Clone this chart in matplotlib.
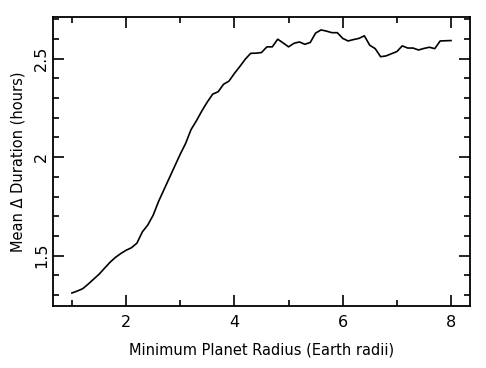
import numpy as np
import matplotlib
matplotlib.use('Agg')
import matplotlib.pyplot as plt
from matplotlib.ticker import MultipleLocator

# minimum planet radius (Earth radii), 0.1 steps
radius = [1.0, 1.1, 1.2, 1.3, 1.4, 1.5, 1.6, 1.7, 1.8, 1.9,
          2.0, 2.1, 2.2, 2.3, 2.4, 2.5, 2.6, 2.7, 2.8, 2.9,
          3.0, 3.1, 3.2, 3.3, 3.4, 3.5, 3.6, 3.7, 3.8, 3.9,
          4.0, 4.1, 4.2, 4.3, 4.4, 4.5, 4.6, 4.7, 4.8, 4.9,
          5.0, 5.1, 5.2, 5.3, 5.4, 5.5, 5.6, 5.7, 5.8, 5.9,
          6.0, 6.1, 6.2, 6.3, 6.4, 6.5, 6.6, 6.7, 6.8, 6.9,
          7.0, 7.1, 7.2, 7.3, 7.4, 7.5, 7.6, 7.7, 7.8, 7.9, 8.0]
# mean delta duration (hours)
duration = [1.310, 1.320, 1.332, 1.355, 1.380, 1.405, 1.435, 1.465, 1.490, 1.510,
            1.527, 1.540, 1.563, 1.620, 1.655, 1.705, 1.775, 1.835, 1.895, 1.955,
            2.015, 2.070, 2.140, 2.185, 2.235, 2.280, 2.320, 2.332, 2.370, 2.386,
            2.425, 2.460, 2.497, 2.527, 2.528, 2.531, 2.560, 2.560, 2.599, 2.580,
            2.560, 2.578, 2.585, 2.573, 2.582, 2.630, 2.646, 2.640, 2.632, 2.632,
            2.603, 2.590, 2.597, 2.603, 2.616, 2.568, 2.551, 2.510, 2.514, 2.525,
            2.536, 2.565, 2.554, 2.554, 2.544, 2.552, 2.558, 2.551, 2.590, 2.591, 2.592]

fig = plt.figure(figsize=(4.86, 3.68), dpi=100)
ax = fig.add_axes([0.109, 0.168, 0.858, 0.786])

ax.plot(radius, duration, color='black', lw=1.2)

ax.set_xlim(0.65, 8.35)
ax.set_ylim(1.243, 2.712)

ax.xaxis.set_major_locator(MultipleLocator(2))
ax.xaxis.set_minor_locator(MultipleLocator(1))
ax.yaxis.set_major_locator(MultipleLocator(0.5))
ax.yaxis.set_minor_locator(MultipleLocator(0.1))
ax.set_yticks([1.5, 2.0, 2.5])
ax.set_yticklabels(['1.5', '2', '2.5'], rotation=90, va='center')

ax.tick_params(which='both', direction='in', top=True, right=True,
               width=1.2, labelsize=11.5, color='black')
ax.tick_params(which='major', length=8)
ax.tick_params(axis='x', which='major', pad=6)
ax.tick_params(axis='y', which='major', pad=3)
ax.tick_params(which='minor', length=4)
for s in ax.spines.values():
    s.set_linewidth(1.3)

ax.set_xlabel('Minimum Planet Radius (Earth radii)', fontsize=10.5, labelpad=9)
ax.set_ylabel('Mean \u0394 Duration (hours)', fontsize=10.5, labelpad=6)

fig.savefig('out.png', dpi=100)
